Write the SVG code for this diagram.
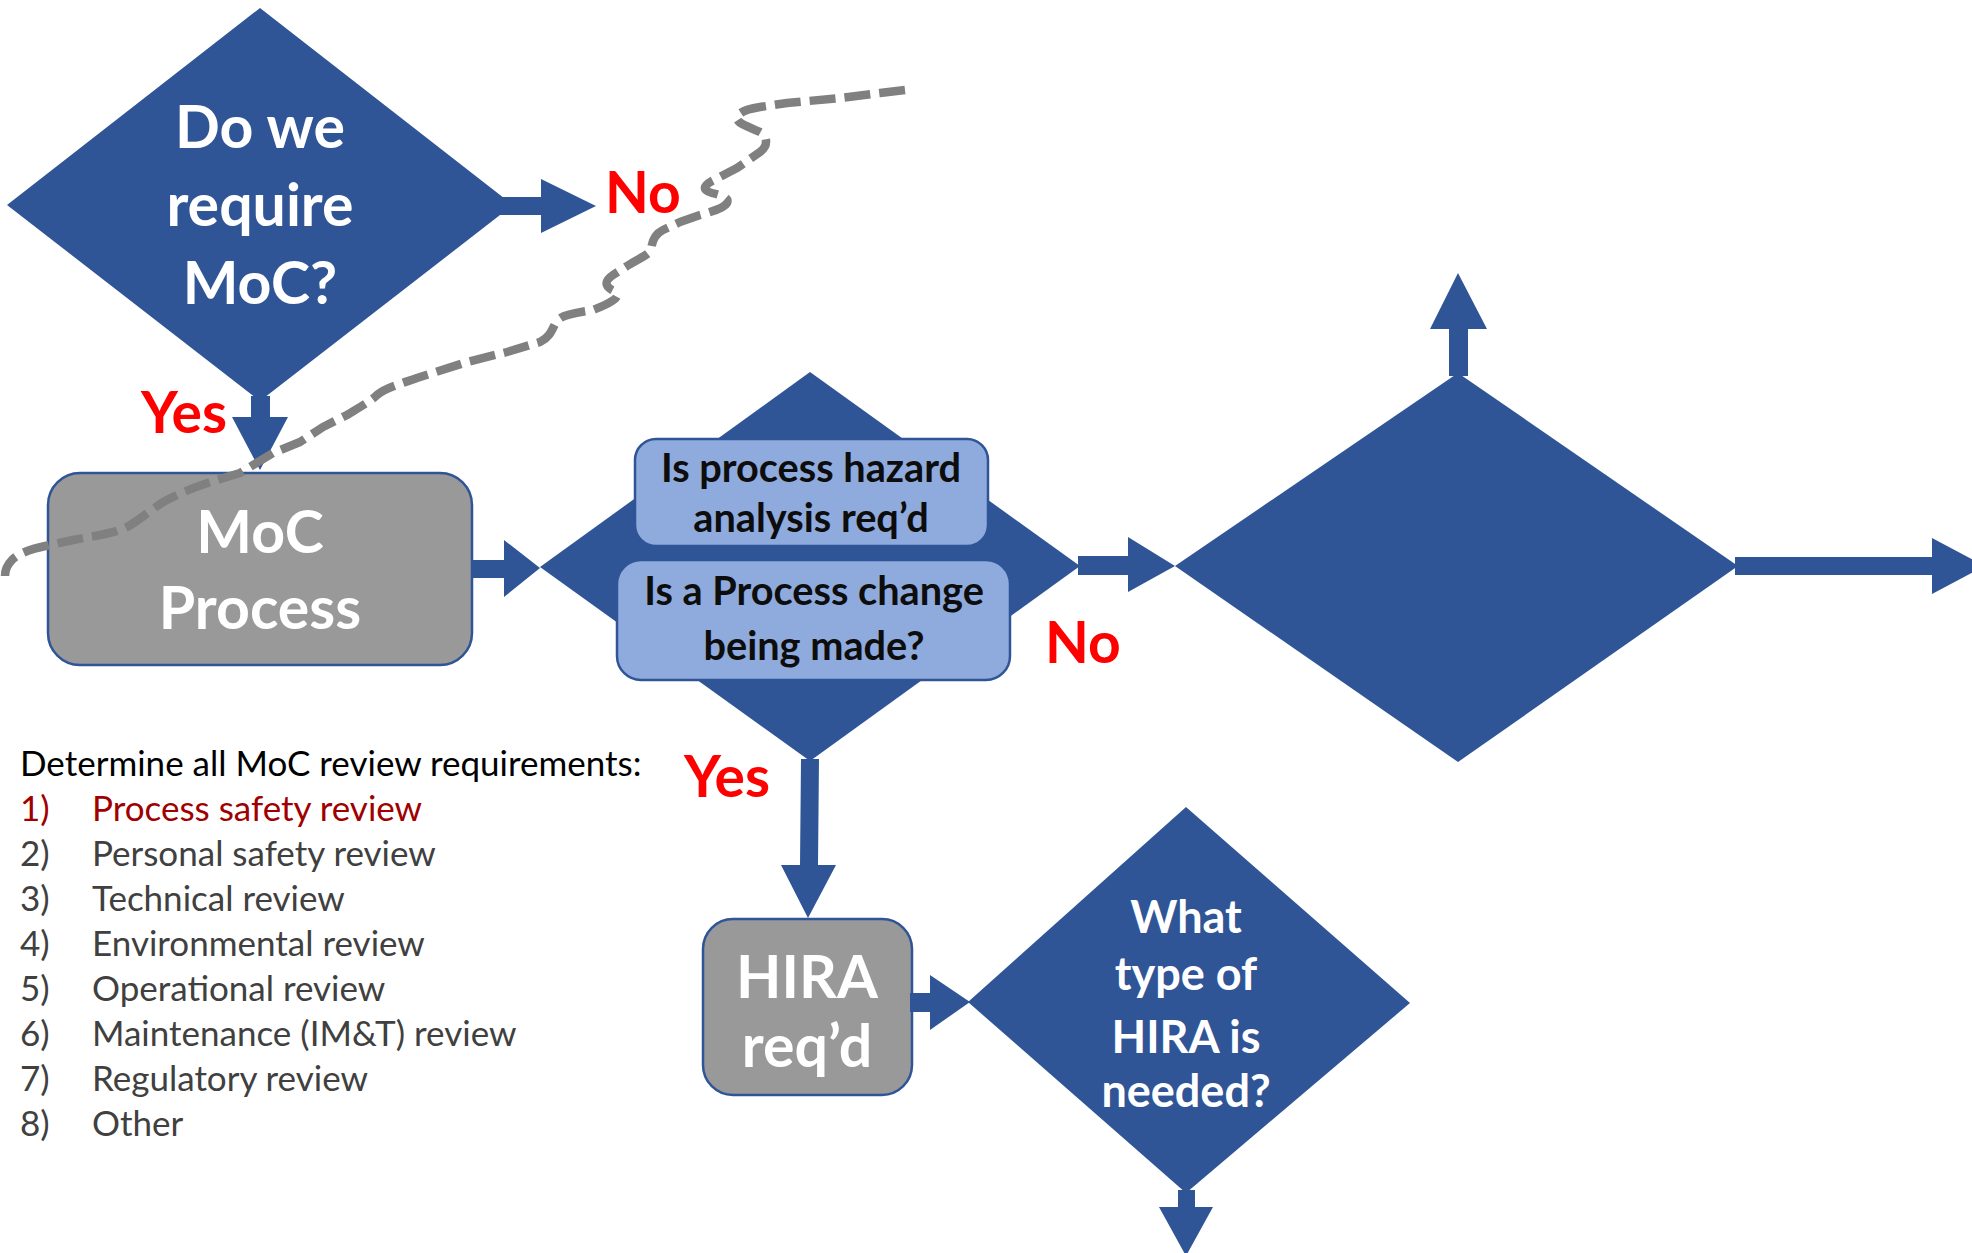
<svg xmlns="http://www.w3.org/2000/svg" width="1972" height="1253" viewBox="0 0 1972 1253">
  <style>
    .blue { fill: #2F5597; }
    .grey-box { fill: #999999; stroke: #2F5597; stroke-width: 2.5; }
    .light-box { fill: #8FAADC; stroke: #2F5597; stroke-width: 2.5; }
    .big { font-family: Lato, "Liberation Sans", sans-serif; font-weight: 700; font-size: 59px; fill: #FFFFFF; text-anchor: middle; }
    .mid { font-family: Lato, "Liberation Sans", sans-serif; font-weight: 700; font-size: 45px; fill: #FFFFFF; text-anchor: middle; }
    .boxtxt { font-family: Lato, "Liberation Sans", sans-serif; font-weight: 700; font-size: 39.7px; fill: #0D0D0D; text-anchor: middle; }
    .answer { font-family: Lato, "Liberation Sans", sans-serif; font-weight: 700; font-size: 57px; fill: #FF0000; }
    .list { font-family: Lato, "Liberation Sans", sans-serif; font-weight: 400; font-size: 35px; fill: #404040; }
    .boundary { fill: none; stroke: #808080; stroke-width: 8.5; stroke-dasharray: 26 9; stroke-linejoin: round; }
  </style>

  <!-- decision: is MoC required -->
  <g id="node-require-moc">
    <polygon class="blue" points="260,8 513,205 260,401 7,205"/>
    <text class="big" x="260" y="148">Do we</text>
    <text class="big" x="260" y="226">require</text>
    <text class="big" x="260" y="304">MoC?</text>
  </g>

  <!-- MoC process step -->
  <g id="node-moc-process">
    <rect class="grey-box" x="48" y="473" width="424" height="192" rx="32" ry="32"/>
    <text class="big" x="260" y="553">MoC</text>
    <text class="big" x="260" y="629">Process</text>
  </g>

  <!-- decision: process change / PHA required -->
  <g id="node-process-change">
    <polygon class="blue" points="810,372 1080,566 810,761 540,567"/>
    <rect class="light-box" x="635" y="439" width="353" height="107" rx="21" ry="21"/>
    <text class="boxtxt" x="811" y="482">Is process hazard</text>
    <text class="boxtxt" x="811" y="532">analysis req’d</text>
    <rect class="light-box" x="617" y="560" width="393" height="120" rx="24" ry="24"/>
    <text class="boxtxt" x="814" y="605">Is a Process change</text>
    <text class="boxtxt" x="814" y="660">being made?</text>
  </g>

  <!-- empty decision on the right -->
  <g id="node-decision-right">
    <polygon class="blue" points="1458,373 1738,566 1458,762 1175,566"/>
  </g>

  <!-- HIRA required step -->
  <g id="node-hira-reqd">
    <rect class="grey-box" x="703" y="919" width="209" height="176" rx="30" ry="30"/>
    <text class="big" x="807" y="998">HIRA</text>
    <text class="big" x="807" y="1067">req’d</text>
  </g>

  <!-- decision: HIRA type -->
  <g id="node-hira-type">
    <polygon class="blue" points="1186,807 1410,1003 1186,1193 968,1002"/>
    <text class="mid" x="1186" y="933">What</text>
    <text class="mid" x="1186" y="990">type of</text>
    <text class="mid" x="1186" y="1053">HIRA is</text>
    <text class="mid" x="1186" y="1107">needed?</text>
  </g>

  <!-- block arrows between the steps -->
  <g id="connectors" class="blue">
    <polygon points="500,197 541,197 541,179 596,206 541,233 541,215 500,215"/>
    <polygon points="251,396 270,396 270,417 288,417 260,470 232,417 251,417"/>
    <polygon points="472,560 504,560 504,540 540,568 504,597 504,578 472,578"/>
    <polygon points="1078,556 1128,556 1128,537 1175,566 1128,592 1128,575 1078,575"/>
    <polygon points="1449,376 1449,329 1430,329 1458,273 1487,329 1468,329 1468,376"/>
    <polygon points="1735,557 1932,557 1932,538 1985,566 1932,594 1932,575 1735,575"/>
    <polygon points="801,759 819,759 818,865 836,865 808,918 781,865 800,865"/>
    <polygon points="910,993 930,993 930,975 970,1002 930,1030 930,1012 910,1012"/>
    <polygon points="1178,1190 1195,1190 1195,1207 1213,1207 1186,1256 1159,1207 1178,1207"/>
  </g>

  <!-- answer labels -->
  <g id="labels">
    <text class="answer" x="605" y="213">No</text>
    <text class="answer" x="141" y="433">Yes</text>
    <text class="answer" x="1045" y="663">No</text>
    <text class="answer" x="684" y="797">Yes</text>
  </g>

  <!-- review checklist -->
  <g id="review-list">
    <text class="list" x="20" y="776" style="fill:#000000">Determine all MoC review requirements:</text>
    <text class="list" style="fill:#A00000"><tspan x="20" y="821">1)</tspan><tspan x="92" y="821">Process safety review</tspan></text>
    <text class="list"><tspan x="20" y="866">2)</tspan><tspan x="92" y="866">Personal safety review</tspan></text>
    <text class="list"><tspan x="20" y="911">3)</tspan><tspan x="92" y="911">Technical review</tspan></text>
    <text class="list"><tspan x="20" y="956">4)</tspan><tspan x="92" y="956">Environmental review</tspan></text>
    <text class="list"><tspan x="20" y="1001">5)</tspan><tspan x="92" y="1001">Operational review</tspan></text>
    <text class="list"><tspan x="20" y="1046">6)</tspan><tspan x="92" y="1046">Maintenance (IM&amp;T) review</tspan></text>
    <text class="list"><tspan x="20" y="1091">7)</tspan><tspan x="92" y="1091">Regulatory review</tspan></text>
    <text class="list"><tspan x="20" y="1136">8)</tspan><tspan x="92" y="1136">Other</tspan></text>
  </g>

  <!-- hand-drawn dashed boundary line -->
  <g id="boundary-line">
    <path class="boundary" d="M905,90 L880,93 L840,98 L787,103 L760,107 C748,109 738,112 737,118 C737,123 748,127 760,132 C768,136 768,146 760,152 L737,168 L712,181 C703,186 702,190 712,193 C724,196 729,198 727,203 C725,207 718,210 700,215 L680,222 L663,230 C653,235 652,243 651,250 C648,255 640,258 627,266 L613,275 C604,281 605,286 612,290 C618,293 620,296 612,301 C606,305 598,308 593,310 C575,313 562,314 556,322 C552,330 550,337 540,342 L507,352 L467,362 L417,378 C400,384 385,388 377,395 C372,400 365,404 347,415 L323,427 L300,442 L273,453 L240,473 L217,480 C200,485 180,493 167,500 C155,506 140,520 127,527 C115,533 100,535 73,540 L50,545 C35,548 20,552 12,560 C6,566 5,572 5,576"/>
  </g>
</svg>
